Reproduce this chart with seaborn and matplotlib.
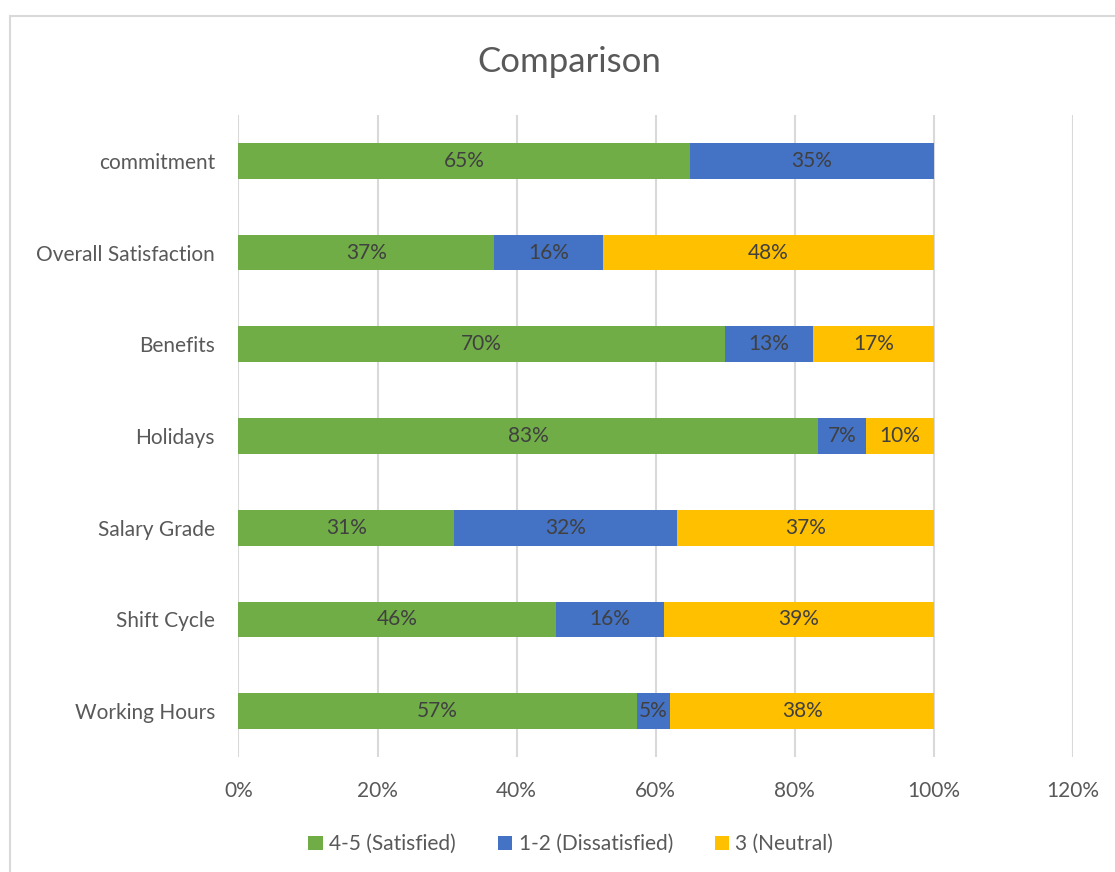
import matplotlib
matplotlib.use("Agg")
import matplotlib.pyplot as plt
from matplotlib.patches import Rectangle
from matplotlib.ticker import FuncFormatter
import numpy as np
import pandas as pd
import seaborn as sns

categories = ["commitment", "Overall Satisfaction", "Benefits", "Holidays",
              "Salary Grade", "Shift Cycle", "Working Hours"]
satisfied = [64.9, 36.8, 69.9, 83.4, 31.0, 45.6, 57.3]
dissatisfied = [35.1, 15.6, 12.7, 6.8, 32.1, 15.6, 4.8]
neutral = [0.0, 47.6, 17.4, 9.8, 36.9, 38.8, 37.9]
series_names = ["4-5 (Satisfied)", "1-2 (Dissatisfied)", "3 (Neutral)"]
colors = ["#70AD47", "#4472C4", "#FFC000"]
x_ticks = [0, 20, 40, 60, 80, 100, 120]

sns.set_theme(style="white")
FONT = ["Lato", "DejaVu Sans"]
plt.rcParams["font.family"] = FONT

df = pd.DataFrame({
    "category": categories,
    "sat": satisfied,
    "dis": dissatisfied,
    "neu": neutral,
})
df["cum1"] = df["sat"]
df["cum2"] = df["sat"] + df["dis"]
df["cum3"] = df["cum2"] + df["neu"]

fig = plt.figure(figsize=(11.15, 8.72), dpi=100)
ax = fig.add_axes([0.2139, 0.1319, 0.7484, 0.7362])

# stacked bars drawn back to front from cumulative totals
for col, color in zip(["cum3", "cum2", "cum1"], colors[::-1]):
    sns.barplot(data=df, x=col, y="category", order=categories, color=color,
                width=0.39, saturation=1, ax=ax, zorder=3, linewidth=0)

# segment labels
for i in range(len(categories)):
    starts = [0, df["cum1"][i], df["cum2"][i]]
    vals = [satisfied[i], dissatisfied[i], neutral[i]]
    for s, v in zip(starts, vals):
        if v <= 0:
            continue
        ax.text(s + v / 2, i, f"{v:.0f}%", ha="center", va="center",
                fontsize=15, color="#404040", zorder=5)

ax.set_xlim(0, 120)
ax.set_ylim(len(categories) - 0.5, -0.5)
ax.set_xticks(x_ticks)
ax.xaxis.set_major_formatter(FuncFormatter(lambda v, p: f"{v:.0f}%"))
ax.grid(axis="x", color="#D9D9D9", linewidth=1.5, zorder=0)
ax.grid(axis="y", visible=False)
for sp in ax.spines.values():
    sp.set_visible(False)
ax.set_xlabel("")
ax.set_ylabel("")
ax.tick_params(axis="x", labelsize=15, labelcolor="#595959", pad=17, length=0)
ax.tick_params(axis="y", labelsize=15, labelcolor="#595959", pad=17, length=0)

fig.text(0.511, 0.929, "Comparison", ha="center", va="center",
         fontsize=25, color="#595959")

handles = [Rectangle((0, 0), 1, 1, facecolor=c, edgecolor="none") for c in colors]
fig.legend(handles, series_names, loc="center", bbox_to_anchor=(0.512, 0.032),
           ncol=3, frameon=False, fontsize=15, labelcolor="#595959",
           handlelength=0.7, handleheight=0.7, handletextpad=0.3,
           columnspacing=2.0)

# chart frame
fig.add_artist(Rectangle((10 / 1115, -0.01), 1.1, 1 - 16 / 872 + 0.01,
                         transform=fig.transFigure, fill=False,
                         edgecolor="#D9D9D9", linewidth=1.5))

fig.savefig("out.png", dpi=100, facecolor="white")
